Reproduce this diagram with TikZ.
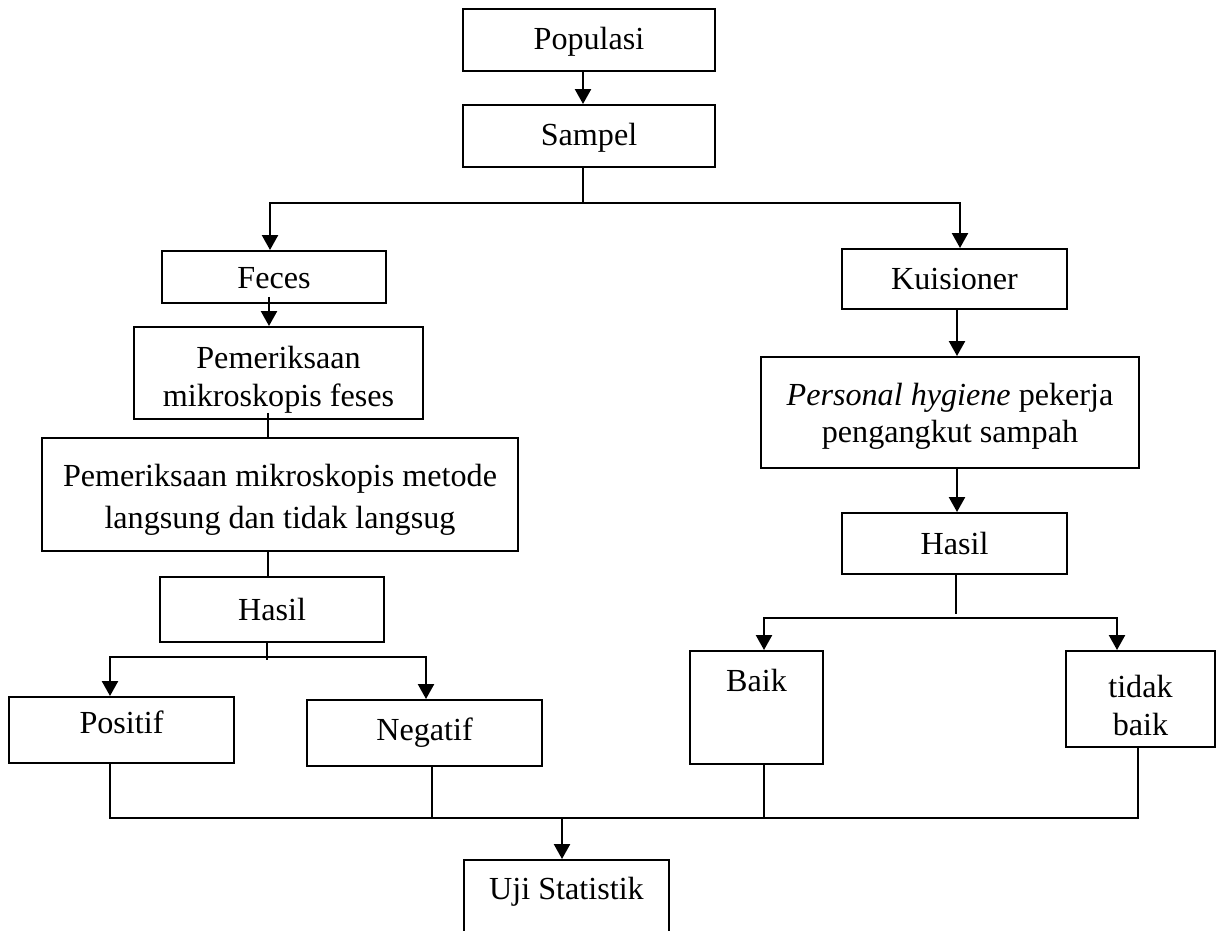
\documentclass[tikz,border=0pt]{standalone}
\usepackage{fontspec}
\setmainfont{Liberation Serif}
\usetikzlibrary{arrows.meta,calc}
\newcommand{\lowr}[2]{\raisebox{-#1}[\height][\depth]{\begin{tabular}{@{}c@{}}#2\end{tabular}}}
\begin{document}
\begin{tikzpicture}[x=0.02cm,y=-0.02cm,
  box/.style={draw,line width=1.1pt,inner sep=0pt,align=center,font=\fontsize{18.3}{21.5}\selectfont},
  conn/.style={line width=1.5pt},
  thin/.style={line width=1pt},
  arr/.style={conn,-{Triangle[length=8.5pt,width=9pt]}}]
\useasboundingbox (0,0) rectangle (1220,930);
% boxes
\node[box,minimum width=5.04cm,minimum height=1.24cm] (pop) at (589,40) {\lowr{0.03cm}{Populasi}};
\node[box,minimum width=5.04cm,minimum height=1.24cm] (samp) at (589,136) {\lowr{0.03cm}{Sampel}};
\node[box,minimum width=4.48cm,minimum height=1.04cm] (feces) at (274,277) {\lowr{0.08cm}{Feces}};
\node[box,minimum width=5.78cm,minimum height=1.84cm] (pemf) at (278.5,373) {\lowr{0.14cm}{Pemeriksaan\\mikroskopis feses}};
\node[box,minimum width=9.52cm,minimum height=2.26cm,font=\fontsize{18.3}{23.8}\selectfont] (big) at (280,494.5) {\lowr{0.1cm}{Pemeriksaan mikroskopis metode\\langsung dan tidak langsug}};
\node[box,minimum width=4.48cm,minimum height=1.30cm] (hasilL) at (272,609.5) {Hasil};
\node[box,minimum width=4.5cm,minimum height=1.32cm] (positif) at (121.5,730) {\lowr{-0.08cm}{Positif}};
\node[box,minimum width=4.7cm,minimum height=1.32cm] (negatif) at (424.5,733) {Negatif};
\node[box,minimum width=4.5cm,minimum height=1.2cm] (kuis) at (954.5,279) {Kuisioner};
\node[box,minimum width=7.56cm,minimum height=2.22cm] (pers) at (950,412.5) {\lowr{0.08cm}{\textit{Personal hygiene} pekerja\\pengangkut sampah}};
\node[box,minimum width=4.5cm,minimum height=1.22cm] (hasilR) at (954.5,543.5) {Hasil};
\node[box,minimum width=2.66cm,text height=0.8cm,text depth=1.46cm] (baik) at (756.5,707.5) {Baik};
\node[box,minimum width=2.98cm,minimum height=1.92cm] (tidak) at (1140.5,699) {\lowr{0.2cm}{tidak\\baik}};
\node[box,minimum width=4.1cm,text height=0.78cm,text depth=0.82cm] (uji) at (566.5,900) {Uji Statistik};
% junction points
\coordinate (s1) at (583,203);
\coordinate (s2) at (267,657);
\coordinate (s2end) at (267,660);
\coordinate (s3) at (956,618);
\coordinate (s3end) at (956,614);
\coordinate (b1) at (110,818);
\coordinate (b2) at (1138,818);
\coordinate (b3) at (432,818);
\coordinate (b4) at (764,818);
\coordinate (s4) at (562,818);
% connectors
\draw[arr] (pop.south -| 583,0) -- (samp.north -| 583,0);
\draw[conn] (samp.south -| s1) -- (s1);
\draw[arr] (s1) -| (feces.north -| 270,0);
\draw[arr] (s1) -| (kuis.north -| 960,0);
\draw[arr] ($(feces.south)+(-5,-7)$) -- (pemf.north -| 269,0);
\draw[conn] ($(pemf.south)+(-10.5,-7)$) -- (big.north -| 268,0);
\draw[conn] (big.south -| 268,0) -- (hasilL.north -| 268,0);
\draw[thin] (hasilL.south -| s2end) -- (s2end);
\draw[arr] (s2) -| (positif.north -| 110,0);
\draw[arr] (s2) -| (negatif.north -| 426,0);
\draw[arr] (kuis.south -| 957,0) -- (pers.north -| 957,0);
\draw[arr] (pers.south -| 957,0) -- (hasilR.north -| 957,0);
\draw[thin] (hasilR.south -| s3end) -- (s3end);
\draw[arr] (s3) -| (baik.north -| 764,0);
\draw[arr] (s3) -| (tidak.north -| 1117,0);
\draw[conn] (positif.south -| b1) -- (b1) -- (b2) -- (tidak.south -| b2);
\draw[thin] (negatif.south -| b3) -- (b3);
\draw[thin] (baik.south -| b4) -- (b4);
\draw[arr] (s4) -- (uji.north -| s4);
\end{tikzpicture}
\end{document}
